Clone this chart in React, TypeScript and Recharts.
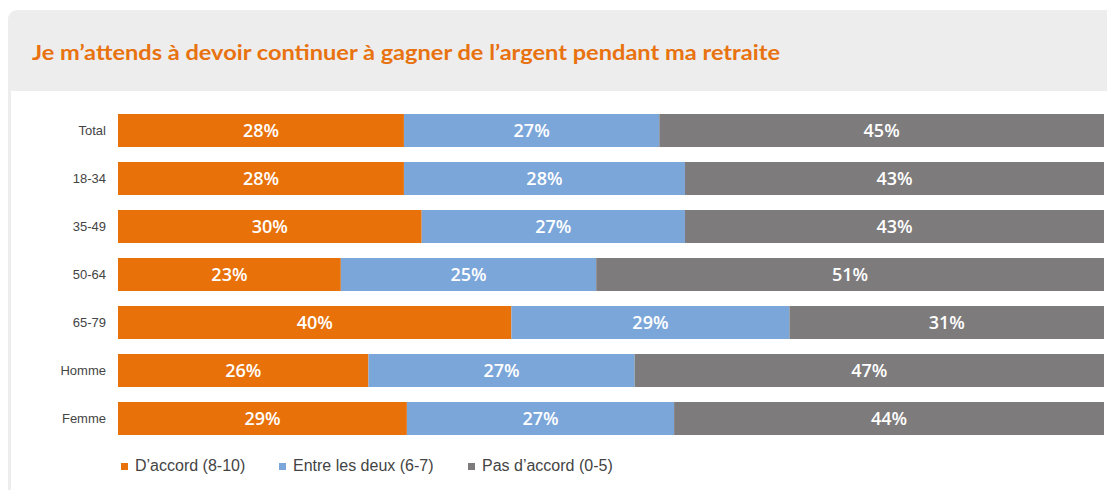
import React from "react";
import { BarChart, Bar, XAxis, YAxis, LabelList } from "recharts";

const categories = ["Total", "18-34", "35-49", "50-64", "65-79", "Homme", "Femme"];
// bar lengths as drawn (share of full bar, %)
const agreeBar = [29.0, 29.0, 30.8, 22.6, 39.9, 25.4, 29.3];
const betweenBar = [25.9, 28.5, 26.7, 25.9, 28.2, 27.0, 27.1];
const disagreeBar = [45.1, 42.5, 42.5, 51.5, 31.9, 47.6, 43.6];
// printed labels (%)
const agreeLabel = [28, 28, 30, 23, 40, 26, 29];
const betweenLabel = [27, 28, 27, 25, 29, 27, 27];
const disagreeLabel = [45, 43, 43, 51, 31, 47, 44];

const seriesNames = ["D\u2019accord (8-10)", "Entre les deux (6-7)", "Pas d\u2019accord (0-5)"];
const title = "Je m\u2019attends \u00e0 devoir continuer \u00e0 gagner de l\u2019argent pendant ma retraite";

const ORANGE = "#E8710A";
const BLUE = "#7BA6DA";
const GRAY = "#7D7B7C";
const colors = [ORANGE, BLUE, GRAY];

const data = categories.map((cat, i) => ({
  cat,
  agree: agreeBar[i],
  between: betweenBar[i],
  disagree: disagreeBar[i],
  agreeL: agreeLabel[i],
  betweenL: betweenLabel[i],
  disagreeL: disagreeLabel[i],
}));

const labelStyle = {
  fill: "#ffffff",
  fontSize: 18,
  fontFamily: "'Open Sans', 'Liberation Sans', Arial, sans-serif",
  fontWeight: 600,
};

const legendX = [121, 279, 468];

export default function App() {
  return (
    <div style={{ position: "relative", width: 1107, height: 490, overflow: "hidden", fontFamily: "'Liberation Sans', Arial, sans-serif" }}>
      <style>{`html,body{margin:0;padding:0;overflow:hidden;background:#fff}`}</style>
      <div
        style={{
          position: "absolute",
          left: 8,
          top: 10,
          width: 1099,
          height: 480,
          background: "#EDEDED",
          borderTopLeftRadius: 9,
        }}
      />
      <svg style={{ position: "absolute", left: 8, top: 10 }} width={1099} height={81}>
        <text
          x={24}
          y={50}
          fill="#E8720F"
          fontSize={21}
          fontWeight={700}
          fontFamily="Lato, 'Open Sans', sans-serif"
          textLength={748}
          lengthAdjust="spacingAndGlyphs"
        >
          {title}
        </text>
      </svg>
      <div style={{ position: "absolute", left: 11, top: 91, width: 1096, height: 399, background: "#ffffff" }}>
        <BarChart
          width={1096}
          height={366}
          data={data}
          layout="vertical"
          margin={{ top: 15, right: 3, bottom: 15, left: 0 }}
          barSize={33}
        >
          <XAxis type="number" domain={[0, 100]} hide />
          <YAxis
            type="category"
            dataKey="cat"
            width={107}
            axisLine={false}
            tickLine={false}
            tickSize={10}
            tickMargin={2}
            tick={{ fill: "#444444", fontSize: 13, fontFamily: "'Liberation Sans', Arial, sans-serif" }}
          />
          <Bar dataKey="agree" stackId="a" fill={ORANGE} isAnimationActive={false}>
            <LabelList dataKey="agreeL" position="center" formatter={(v: any) => `${v}%`} style={labelStyle} />
          </Bar>
          <Bar dataKey="between" stackId="a" fill={BLUE} isAnimationActive={false}>
            <LabelList dataKey="betweenL" position="center" formatter={(v: any) => `${v}%`} style={labelStyle} />
          </Bar>
          <Bar dataKey="disagree" stackId="a" fill={GRAY} isAnimationActive={false}>
            <LabelList dataKey="disagreeL" position="center" formatter={(v: any) => `${v}%`} style={labelStyle} />
          </Bar>
        </BarChart>
        {seriesNames.map((name, i) => (
          <div
            key={name}
            style={{
              position: "absolute",
              left: legendX[i] - 11,
              top: 365,
              height: 20,
              display: "flex",
              alignItems: "center",
              color: "#444444",
              fontSize: 16,
            }}
          >
            <span style={{ display: "inline-block", width: 7, height: 7, background: colors[i], marginRight: 7 }} />
            <span>{name}</span>
          </div>
        ))}
      </div>
    </div>
  );
}
